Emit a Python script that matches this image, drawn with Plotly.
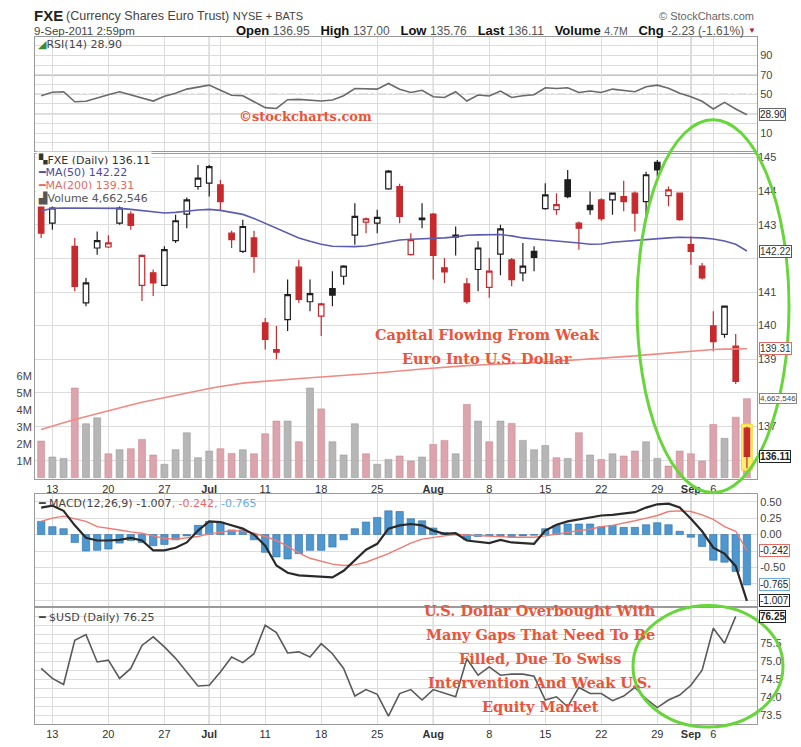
import plotly.graph_objects as go

W, H = 801, 747
def px(x): return x / W
def py(y): return 1 - y / H

# ---------------- data ----------------
idx = list(range(64))
tick_pos = [1, 6, 11, 15, 16, 20, 25, 30, 35, 40, 45, 50, 55, 58, 60]
tick_txt = ["13", "20", "27", "<b>Jul</b>", "", "11", "18", "25", "<b>Aug</b>", "8",
            "15", "22", "29", "<b>Sep</b>", "6"]
month_pos = [15, 35, 58]

opens = [143.64,143.05,143.80,142.36,140.68,142.31,142.34,143.05,143.32,141.20,
         141.57,141.20,142.53,143.32,144.14,144.24,144.19,142.75,142.21,142.61,
         140.08,139.29,140.18,141.74,140.71,140.28,141.10,141.47,142.69,143.08,
         143.05,144.07,144.14,142.11,143.20,143.32,141.72,142.63,141.24,141.67,
         141.14,142.13,141.96,141.57,142.21,143.48,143.45,144.34,143.05,143.58,
         143.74,143.74,143.84,143.94,143.69,144.86,143.87,143.94,142.41,141.77,
         139.99,139.74,139.39,136.95]
highs = [143.70,143.60,144.20,142.61,141.42,142.80,142.69,143.60,143.40,142.12,
         141.67,142.36,143.30,143.81,144.78,144.78,144.34,142.82,143.15,142.82,
         140.23,139.99,141.37,141.96,141.37,140.68,141.62,141.80,143.64,143.22,
         143.45,144.63,144.22,142.75,143.64,143.35,142.01,142.95,141.42,142.51,
         142.01,143.00,142.01,142.46,142.36,144.24,143.94,144.63,143.10,143.99,
         143.79,143.96,144.31,143.99,144.58,144.93,144.14,143.96,142.66,141.86,
         140.43,140.60,139.75,137.00]
lows = [142.61,142.85,143.72,141.02,140.58,142.11,142.31,143.00,142.85,140.73,
        140.88,141.17,142.46,142.90,144.04,143.84,143.42,142.31,142.16,141.57,
        139.29,139.00,139.84,140.68,140.43,139.69,140.58,141.22,142.41,142.75,
        142.75,144.04,143.05,142.09,142.90,141.37,141.27,142.09,140.65,141.02,
        140.83,141.50,141.17,141.32,141.62,143.45,143.30,143.79,142.26,143.30,
        143.12,143.30,143.40,142.80,143.25,144.44,143.55,143.12,141.81,141.37,
        139.24,139.64,138.26,135.76]
closes = [142.75,143.50,144.05,141.17,141.27,142.53,142.46,143.50,142.98,142.09,
          141.27,142.26,143.12,143.74,144.39,144.73,143.69,142.56,142.95,142.06,
          139.59,139.21,140.92,140.78,140.95,140.65,140.91,141.77,143.25,143.18,
          143.22,144.60,143.25,142.56,143.15,142.09,141.60,142.69,140.71,142.31,
          141.62,142.88,141.37,141.77,142.03,143.89,143.60,143.84,142.90,143.45,
          143.18,143.94,143.69,143.35,144.49,144.63,144.04,143.15,142.21,141.42,
          139.52,140.58,138.34,136.11]
prior_close = 143.20

volume_m = [2.16,1.22,1.14,5.29,3.18,3.53,1.41,1.65,1.71,2.26,
            1.34,0.79,1.65,2.65,1.18,1.57,1.71,1.43,1.65,1.41,
            2.59,3.34,3.34,2.12,5.29,4.06,2.12,1.34,3.18,1.41,
            0.79,1.08,1.28,0.98,1.22,1.96,2.20,1.41,4.32,3.34,
            2.12,3.34,3.20,2.20,1.65,1.90,1.18,1.14,2.65,1.34,
            1.08,1.41,1.28,1.57,2.12,1.14,0.69,1.57,1.41,0.98,
            3.14,2.32,3.57,4.66]

ma50 = [143.41,143.49,143.50,143.50,143.50,143.50,143.50,143.49,143.46,143.43,
        143.40,143.35,143.37,143.41,143.44,143.46,143.43,143.37,143.31,143.19,
        143.04,142.89,142.74,142.61,142.51,142.42,142.36,142.35,142.35,142.37,
        142.43,142.49,142.55,142.57,142.58,142.59,142.61,142.64,142.69,142.70,
        142.71,142.71,142.67,142.61,142.58,142.55,142.52,142.51,142.46,142.42,
        142.43,142.48,142.51,142.54,142.57,142.60,142.61,142.63,142.63,142.61,
        142.58,142.52,142.42,142.22]
ma200 = [136.91,137.00,137.11,137.21,137.30,137.37,137.46,137.55,137.64,137.72,
         137.79,137.86,137.94,138.01,138.07,138.13,138.19,138.25,138.29,138.32,
         138.35,138.38,138.40,138.43,138.45,138.47,138.49,138.52,138.55,138.57,
         138.59,138.62,138.66,138.68,138.71,138.74,138.77,138.78,138.81,138.83,
         138.84,138.85,138.87,138.89,138.90,138.92,138.94,138.96,138.98,139.00,
         139.02,139.04,139.07,139.10,139.13,139.16,139.19,139.22,139.25,139.27,
         139.29,139.30,139.31,139.31]

rsi = [48.5,52.1,52.6,42.3,42.8,46.4,49.5,52.6,49.5,45.9,
       43.0,47.9,51.0,55.3,57.7,59.4,54.1,49.0,48.5,42.3,
       36.2,35.4,44.4,44.7,43.8,43.0,44.1,48.5,55.9,55.6,
       55.3,61.1,55.1,51.8,54.1,47.4,46.7,52.6,43.0,49.2,
       48.2,53.3,46.7,48.5,49.5,56.7,55.9,56.7,51.8,53.3,
       51.8,55.3,54.1,52.6,57.7,59.4,56.2,51.0,47.4,42.8,
       34.8,41.6,34.8,28.9]

macd = [0.41,0.44,0.36,0.14,-0.05,-0.09,-0.09,-0.08,-0.05,-0.09,
        -0.24,-0.24,-0.20,-0.12,0.06,0.20,0.19,0.14,0.09,0.00,
        -0.17,-0.47,-0.58,-0.62,-0.63,-0.64,-0.65,-0.55,-0.39,-0.23,
        -0.14,0.09,0.14,0.16,0.14,0.06,0.01,0.02,-0.09,-0.11,
        -0.13,-0.08,-0.12,-0.13,-0.14,0.06,0.15,0.20,0.23,0.26,
        0.29,0.30,0.32,0.34,0.41,0.46,0.47,0.41,0.24,0.05,
        -0.20,-0.29,-0.48,-1.007]
signal = [0.20,0.25,0.28,0.24,0.20,0.12,0.10,0.07,0.04,0.02,
          -0.02,-0.06,-0.07,-0.05,-0.03,0.01,0.04,0.06,0.05,0.02,
          -0.03,-0.09,-0.18,-0.28,-0.36,-0.41,-0.45,-0.47,-0.46,-0.42,
          -0.36,-0.29,-0.21,-0.13,-0.07,-0.04,-0.02,0.00,-0.01,-0.02,
          -0.03,-0.03,-0.04,-0.04,-0.04,-0.02,0.01,0.04,0.06,0.08,
          0.12,0.14,0.17,0.21,0.25,0.29,0.35,0.36,0.35,0.30,
          0.23,0.12,0.05,-0.242]
hist = [0.20,0.12,0.09,-0.12,-0.25,-0.24,-0.22,-0.13,-0.09,-0.12,
        -0.17,-0.15,-0.08,-0.02,0.14,0.20,0.19,0.07,0.07,-0.08,
        -0.27,-0.34,-0.37,-0.29,-0.24,-0.24,-0.19,-0.08,0.09,0.19,
        0.26,0.36,0.35,0.24,0.21,0.10,0.03,0.01,-0.08,-0.03,
        -0.02,-0.03,-0.04,-0.02,-0.01,0.09,0.14,0.16,0.16,0.16,
        0.12,0.14,0.11,0.11,0.15,0.18,0.15,0.05,-0.04,-0.18,
        -0.39,-0.42,-0.56,-0.765]

usd = [74.80,74.52,74.35,75.58,75.74,74.98,75.03,74.52,74.80,75.44,
       75.68,75.40,75.08,74.70,74.31,74.33,74.70,75.12,74.96,75.21,
       76.00,75.80,75.23,75.26,75.12,75.49,75.21,74.80,74.03,74.21,
       74.08,73.47,74.10,74.21,73.92,74.21,74.12,74.01,75.07,74.61,
       74.84,74.61,74.64,74.64,74.58,73.92,74.01,73.73,74.27,74.10,
       74.10,73.90,74.03,74.27,73.95,73.71,73.92,74.06,74.33,74.75,
       75.92,75.50,76.25,None]

# ---------------- styling ----------------
RED = "#c62a2c"
BLK = "#1e1e1e"
PINK = "#dca4ac"
GRAY = "#b6b6b6"
GRID = "#dcdcdc"
MONTH = "#a8a8a8"
BORDER = "#9a9a9a"
SANS = "Liberation Sans, Arial, sans-serif"
DSANS = "DejaVu Sans, Verdana, sans-serif"
SERIF = "DejaVu Serif, serif"
NOTE = "#e8553a"

prev = [prior_close] + closes[:-1]
down = [c < p for c, p in zip(closes, prev)]

xr = [-0.55, 63.9]
xd = [px(35), px(757)]
dom_rsi = [py(149), py(35)]
dom_px = [py(478), py(152)]
dom_macd = [py(606), py(493)]
dom_usd = [py(724), py(608)]

fig = go.Figure()

# volume (base axis y2)
fig.add_trace(go.Bar(
    x=idx, y=volume_m, xaxis="x2", yaxis="y2", width=0.62,
    marker=dict(color=[PINK if d else GRAY for d in down],
                line=dict(color=["#c88c95" if d else "#9c9c9c" for d in down], width=0.6)),
    showlegend=False, hoverinfo="skip"))

# yellow highlight behind the latest candle (bar layer sits below candles)
last = idx[-1]
hl_lo = lows[last] - 0.06
hl_hi = max(opens[last], closes[last]) + 0.12
fig.add_trace(go.Bar(x=[last], y=[hl_hi - hl_lo], base=[hl_lo], xaxis="x2", yaxis="y5",
                     width=0.95, marker=dict(color="#fff06a", line=dict(color="#f0d830", width=1)),
                     showlegend=False, hoverinfo="skip"))

# candles split by colour
for flag, col in [(True, RED), (False, BLK)]:
    sel = [i for i in idx if down[i] == flag]
    fig.add_trace(go.Candlestick(
        x=sel, open=[opens[i] for i in sel], high=[highs[i] for i in sel],
        low=[lows[i] for i in sel], close=[closes[i] for i in sel],
        xaxis="x2", yaxis="y5", whiskerwidth=0,
        increasing=dict(line=dict(color=col, width=1.2), fillcolor="white"),
        decreasing=dict(line=dict(color=col, width=1.2), fillcolor=col),
        showlegend=False))

# MA lines on price axis (y5)
fig.add_trace(go.Scatter(x=idx, y=ma200, xaxis="x2", yaxis="y5", mode="lines",
                         line=dict(color="#f08a84", width=1.6), showlegend=False))
fig.add_trace(go.Scatter(x=idx, y=ma50, xaxis="x2", yaxis="y5", mode="lines",
                         line=dict(color="#5b5db0", width=1.6), showlegend=False))

# RSI
fig.add_trace(go.Scatter(x=idx, y=rsi, xaxis="x", yaxis="y", mode="lines",
                         line=dict(color="#6a6a6a", width=1.6), showlegend=False))

# MACD
fig.add_trace(go.Bar(x=idx, y=hist, xaxis="x3", yaxis="y3", width=0.66,
                     marker=dict(color="#4f97cf", line=dict(color="#2f70a8", width=0.6)),
                     showlegend=False))
fig.add_trace(go.Scatter(x=idx, y=signal, xaxis="x3", yaxis="y3", mode="lines",
                         line=dict(color="#f07a72", width=1.4), showlegend=False))
fig.add_trace(go.Scatter(x=idx, y=macd, xaxis="x3", yaxis="y3", mode="lines",
                         line=dict(color="#2a2a2a", width=2.2), showlegend=False))

# USD
fig.add_trace(go.Scatter(x=idx, y=usd, xaxis="x4", yaxis="y4", mode="lines",
                         line=dict(color="#5a5a5a", width=1.6), showlegend=False))

def xax(anchor, labels):
    return dict(domain=xd, range=xr, anchor=anchor, tickmode="array",
                tickvals=tick_pos, ticktext=tick_txt, showticklabels=labels,
                showgrid=True, gridcolor=GRID, gridwidth=1, zeroline=False,
                showline=True, mirror=True, linecolor=BORDER, ticks="",
                tickfont=dict(family=SANS, size=11, color="#333"))

def yax(domain, rng, vals, texts, anchor, side="right", grid=True):
    return dict(domain=domain, range=rng, anchor=anchor, side=side,
                tickmode="array", tickvals=vals, ticktext=texts,
                showgrid=grid, gridcolor=GRID, zeroline=False,
                showline=True, mirror=True, linecolor=BORDER, ticks="",
                tickfont=dict(family=SANS, size=11, color="#444"))

rsi_vals = list(range(0, 101, 10))
rsi_txt = [str(v) if v in (10, 50, 70, 90) else "" for v in rsi_vals]
macd_vals = [-1.0, -0.75, -0.5, -0.25, 0.0, 0.25, 0.5]
macd_txt = ["", "", "-0.50", "", "0.00", "0.25", "0.50"]
usd_vals = [73.25, 73.5, 73.75, 74.0, 74.25, 74.5, 74.75, 75.0, 75.25, 75.5, 75.75, 76.0, 76.25]
usd_txt = ["", "73.5", "", "74.0", "", "74.5", "", "75.0", "", "75.5", "", "", ""]
px_vals = list(range(136, 146))
px_txt = ["" if v in (136, 138, 142) else str(v) for v in px_vals]
vol_vals = [1, 2, 3, 4, 5, 6]

fig.update_layout(
    width=W, height=H, margin=dict(l=0, r=0, t=0, b=0),
    paper_bgcolor="white", plot_bgcolor="white", showlegend=False, barmode="overlay",
    xaxis=xax("y", False),
    xaxis2=xax("y2", True),
    xaxis3=xax("y3", False),
    xaxis4=xax("y4", True),
    yaxis=yax(dom_rsi, [-7.95, 108.97], rsi_vals, rsi_txt, "x"),
    yaxis2=yax(dom_px, [-0.06, 19.12], vol_vals, [f"{v}M" for v in vol_vals], "x2",
               side="left", grid=False),
    yaxis5=dict(overlaying="y2", anchor="x2", side="right", range=[135.445, 145.119],
                tickmode="array", tickvals=px_vals, ticktext=px_txt,
                showgrid=True, gridcolor=GRID, zeroline=False, showline=False, ticks="",
                tickfont=dict(family=SANS, size=11, color="#444")),
    yaxis3=yax(dom_macd, [-1.091, 0.621], macd_vals, macd_txt, "x3"),
    yaxis4=yax(dom_usd, [73.25, 76.472], usd_vals, usd_txt, "x4"),
)
fig.update_xaxes(rangeslider_visible=False)

shapes = []
# month lines in each panel
for xa, dom in [("x", dom_rsi), ("x2", dom_px), ("x3", dom_macd), ("x4", dom_usd)]:
    for m in month_pos:
        shapes.append(dict(type="line", xref=xa, yref="paper", x0=m, x1=m, y0=dom[0], y1=dom[1],
                           line=dict(color=MONTH, width=1), layer="below"))
# RSI reference lines
for lvl in (70, 30):
    shapes.append(dict(type="line", xref="paper", yref="y", x0=xd[0], x1=xd[1], y0=lvl, y1=lvl,
                       line=dict(color="#8a8a8a", width=1.3), layer="below"))
shapes.append(dict(type="line", xref="paper", yref="y", x0=xd[0], x1=xd[1], y0=50, y1=50,
                   line=dict(color="#8a8a8a", width=1.1, dash="dashdot"), layer="below"))
# green ellipses
shapes.append(dict(type="circle", xref="paper", yref="paper",
                   x0=px(637), x1=px(789), y0=py(492), y1=py(118),
                   line=dict(color="#66d63a", width=3), layer="above"))
shapes.append(dict(type="circle", xref="paper", yref="paper",
                   x0=px(633), x1=px(783), y0=py(727), y1=py(605),
                   line=dict(color="#66d63a", width=3), layer="above"))
fig.update_layout(shapes=shapes)

ann = []
def text(x, y, s, size=11, color="#333", family=SANS, xanchor="left", bg=None):
    d = dict(x=px(x), y=py(y), xref="paper", yref="paper", text=s, showarrow=False,
             xanchor=xanchor, yanchor="middle", font=dict(family=family, size=size, color=color))
    if bg:
        d["bgcolor"] = bg
    ann.append(d)

# header
NB = "&nbsp;"
text(32, 14, "<b>FXE</b>", size=15, color="#222")
text(64, 14, "(Currency Shares Euro Trust) <span style='font-size:11px'>NYSE + BATS</span>",
     size=12.5, color="#444")
text(32, 29, "9-Sep-2011 2:59pm", size=11.5, color="#444")
def stat(lbl, val, vs=12):
    return f"<b>{lbl}</b> <span style='color:#555;font-size:{vs}px'>{val}</span>"
text(746, 29, (NB * 3).join([stat("Open", "136.95"), stat("High", "137.00"), stat("Low", "135.76"),
                             stat("Last", "136.11"), stat("Volume", "4.7M", 10.5),
                             stat("Chg", "-2.23 (-1.61%)")]),
     size=13, color="#111", xanchor="right")
text(752, 29, "▼", size=8, color="#b02040", xanchor="center")
text(756, 14, "© StockCharts.com", size=11, color="#666", xanchor="right")

# panel legends
text(36, 43, "<span style='color:#3a8a3a'>◢</span>RSI(14) 28.90", size=11, color="#444", family=DSANS)
text(36, 158, "▚FXE (Daily) 136.11", size=11, color="#333", family=DSANS, bg="white")
text(36, 171, "━MA(50) 142.22", size=11, color="#4a4aa8", family=DSANS, bg="white")
text(36, 184, "━MA(200) 139.31", size=11, color="#e06a66", family=DSANS, bg="white")
text(36, 197, "▟Volume 4,662,546", size=11, color="#555", family=DSANS, bg="white")
text(36, 503, "━ MACD(12,26,9) -1.007<span style='color:#e86a62'>, -0.242</span>"
              "<span style='color:#6aaee0'>, -0.765</span>", size=11, color="#444", family=DSANS)
text(36, 617, "━ $USD (Daily) 76.25", size=11, color="#444", family=DSANS)

# red notes
text(305, 115, "<b>©stockcharts.com</b>", size=13, color=NOTE, family=SERIF, xanchor="center")
text(487, 333, "<b>Capital Flowing From Weak</b>", size=14.5, color=NOTE, family=SERIF, xanchor="center")
text(487, 357, "<b>Euro Into U.S. Dollar</b>", size=14.5, color=NOTE, family=SERIF, xanchor="center")
for k, line in enumerate(["U.S. Dollar Overbought With", "Many Gaps That Need To Be",
                          "Filled, Due To Swiss", "Intervention And Weak U.S.",
                          "Equity Market"]):
    text(540, 610 + 24.2 * k, f"<b>{line}</b>", size=14.5, color=NOTE, family=SERIF, xanchor="center")

# right-edge value boxes
def vbox(yref, yval, s, col, txtcol="#222", size=10):
    ann.append(dict(x=px(759), y=yval, xref="paper", yref=yref, text=s, showarrow=False,
                    xanchor="left", yanchor="middle", bgcolor="white", bordercolor=col,
                    borderwidth=1, borderpad=0,
                    font=dict(family=SANS, size=size, color=txtcol)))

vbox("y", rsi[-1], f"{rsi[-1]:.2f}", "#666")
vbox("y5", ma50[-1], f"{ma50[-1]:.2f}", "#4a4aa8", "#333")
vbox("y5", ma200[-1], f"{ma200[-1]:.2f}", "#e06a66", "#333")
vbox("y2", volume_m[-1], "4,662,546", "#888", "#444", size=8)
vbox("y5", closes[-1], f"<b>{closes[-1]:.2f}</b>", "#222")
vbox("y3", signal[-1], f"{signal[-1]:.3f}", "#e86a62")
vbox("y3", hist[-1], f"{hist[-1]:.3f}", "#6aaee0")
vbox("y3", macd[-1], f"{macd[-1]:.3f}", "#222")
vbox("y4", usd[-2], f"<b>{usd[-2]:.2f}</b>", "#222")

fig.update_layout(annotations=ann)
fig.write_html("out.html", config={"displayModeBar": False},
               post_script="document.body.style.margin='0';")
